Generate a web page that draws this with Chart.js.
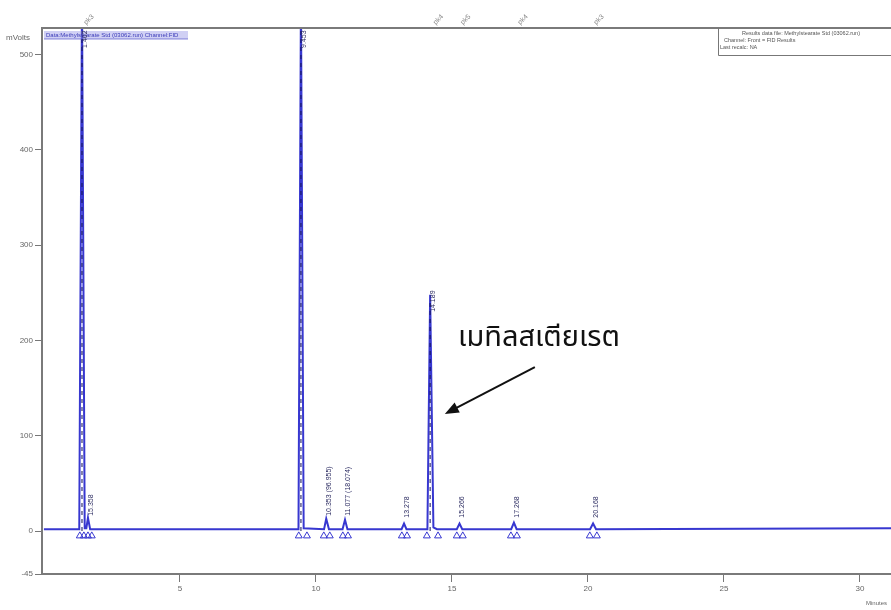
<!DOCTYPE html>
<html>
<head>
<meta charset="utf-8">
<script src="https://cdn.jsdelivr.net/npm/chart.js@4.4.0/dist/chart.umd.min.js"></script>
<style>
html,body{margin:0;padding:0;background:#fff;}
canvas{display:block;}
</style>
</head>
<body>
<canvas id="c" width="891" height="610"></canvas>
<script>
// ---- data ----
const timeMin   = [0, 1.30, 1.40, 1.50, 1.56, 1.62, 1.70, 9.36, 9.45, 9.55, 10.30, 10.38, 10.48, 10.98, 11.07, 11.16, 13.15, 13.24, 13.33, 14.10, 14.20, 14.32, 14.45, 15.18, 15.28, 15.38, 17.18, 17.28, 17.38, 20.08, 20.19, 20.30, 31.2];
const signalMv  = [2, 2, 560, 3, 3, 14, 2, 2, 560, 3, 2, 13, 2, 2, 12, 2, 2, 8, 2, 2, 248, 4, 2, 2, 8, 2, 2, 9, 2, 2, 8, 2, 3];

const markTimes = [1.32, 1.47, 1.62, 1.76, 9.37, 9.67, 10.29, 10.51, 10.99, 11.18, 13.16, 13.35, 14.08, 14.49, 15.18, 15.40, 17.17, 17.39, 20.07, 20.33];
const markLevel = -5;

const dropTimes = [1.40, 9.45, 14.20];
const dropTops  = [528, 528, 240];

const peakLabelTimes  = [1.40, 1.64, 9.45, 10.38, 11.07, 13.24, 14.20, 15.28, 17.28, 20.19];
const peakLabelBase   = [505, 14, 505, 14, 14, 12, 228, 12, 12, 12];
const peakLabelTexts  = ["1.402", "15.358", "9.453", "10.353 (96.955)", "11.077 (18.074)", "13.278", "14.189", "15.266", "17.268", "20.168"];

const eventTimes = [1.60, 14.45, 15.45, 17.55, 20.35];
const eventTexts = ["pk3", "pk4", "pk5", "pk4", "pk3"];

const xTickValues = [5, 10, 15, 20, 25, 30];
const yTickValues = [-45, 0, 100, 200, 300, 400, 500];

const annotationText = "เมทิลสเตียเรต";
const annotationAt   = {x: 15.22, y: 194};
const arrowFrom      = {x: 18.05, y: 172};
const arrowTo        = {x: 14.74, y: 123};

// ---- build datasets ----
const signalPts = timeMin.map((t, i) => ({x: t, y: signalMv[i]}));
const markPts = markTimes.map(t => ({x: t, y: markLevel}));
const dropPts = [];
dropTimes.forEach((t, i) => { dropPts.push({x: t, y: 0}, {x: t, y: dropTops[i]}, {x: t, y: null}); });

const BLUE = 'rgb(55,55,208)';

const decor = {
  id: 'decor',
  afterDraw(chart) {
    const {ctx, chartArea: a, scales: {x, y}} = chart;
    ctx.save();
    // top border and x-axis continuation to the canvas edge
    ctx.strokeStyle = '#7a7a7a';
    ctx.lineWidth = 2;
    ctx.beginPath(); ctx.moveTo(a.left - 1, a.top); ctx.lineTo(chart.width, a.top); ctx.stroke();
    ctx.beginPath(); ctx.moveTo(a.right - 1, a.bottom); ctx.lineTo(chart.width, a.bottom); ctx.stroke();

    // axis titles
    ctx.fillStyle = '#666';
    ctx.font = '8px Arial';
    ctx.textAlign = 'left'; ctx.textBaseline = 'middle';
    ctx.fillText('mVolts', 6, a.top + 10);
    ctx.font = '6px Arial';
    ctx.fillText('Minutes', 866, 603);

    // top-left legend
    ctx.fillStyle = 'rgba(150,150,230,0.45)';
    ctx.fillRect(a.left + 2, a.top + 3, 144, 8);
    ctx.fillStyle = '#3a3ab8';
    ctx.font = '6px Arial';
    ctx.textBaseline = 'middle';
    ctx.fillText('Data:Methylstearate Std (03062.run) Channel:FID', a.left + 4, a.top + 7);
    ctx.strokeStyle = '#5555cc'; ctx.lineWidth = 0.7;
    ctx.beginPath(); ctx.moveTo(a.left + 2, a.top + 11); ctx.lineTo(a.left + 146, a.top + 11); ctx.stroke();

    // top-right result box
    ctx.fillStyle = '#fff';
    ctx.fillRect(718, a.top + 1, 180, 27);
    ctx.strokeStyle = '#777'; ctx.lineWidth = 1;
    ctx.beginPath();
    ctx.moveTo(718.5, a.top); ctx.lineTo(718.5, a.top + 27.5); ctx.lineTo(chart.width, a.top + 27.5);
    ctx.stroke();
    ctx.fillStyle = '#555';
    ctx.font = '5.5px Arial';
    ctx.fillText('Results data file: Methylstearate Std (03062.run)', 742, a.top + 5);
    ctx.fillText('Channel: Front = FID Results', 724, a.top + 12);
    ctx.fillText('Last recalc: NA', 720, a.top + 19);

    // event labels above the plot (rotated 45°)
    ctx.fillStyle = '#888';
    ctx.font = '7px Arial';
    eventTimes.forEach((t, i) => {
      ctx.save();
      ctx.translate(x.getPixelForValue(t), a.top - 2);
      ctx.rotate(-Math.PI / 4);
      ctx.textAlign = 'left'; ctx.textBaseline = 'bottom';
      ctx.fillText(eventTexts[i], 0, 0);
      ctx.restore();
    });

    // peak labels (vertical)
    ctx.fillStyle = '#2a2a60';
    ctx.font = '7px Arial';
    peakLabelTimes.forEach((t, i) => {
      ctx.save();
      ctx.translate(x.getPixelForValue(t) + 3, y.getPixelForValue(peakLabelBase[i]) - 2);
      ctx.rotate(-Math.PI / 2);
      ctx.textAlign = 'left'; ctx.textBaseline = 'middle';
      ctx.fillText(peakLabelTexts[i], 0, 0);
      ctx.restore();
    });

    // annotation text
    ctx.fillStyle = '#111';
    ctx.font = '29px "Noto Sans Thai", "Noto Sans", "Tahoma", sans-serif';
    ctx.textAlign = 'left'; ctx.textBaseline = 'alphabetic';
    ctx.fillText(annotationText, x.getPixelForValue(annotationAt.x), y.getPixelForValue(annotationAt.y));

    // arrow
    const x1 = x.getPixelForValue(arrowFrom.x), y1 = y.getPixelForValue(arrowFrom.y);
    const x2 = x.getPixelForValue(arrowTo.x), y2 = y.getPixelForValue(arrowTo.y);
    const ang = Math.atan2(y2 - y1, x2 - x1);
    const hl = 15;
    ctx.strokeStyle = '#111'; ctx.lineWidth = 2;
    ctx.beginPath(); ctx.moveTo(x1, y1);
    ctx.lineTo(x2 - Math.cos(ang) * hl * 0.8, y2 - Math.sin(ang) * hl * 0.8); ctx.stroke();
    ctx.fillStyle = '#111';
    ctx.beginPath();
    ctx.moveTo(x2, y2);
    ctx.lineTo(x2 - hl * Math.cos(ang - 0.38), y2 - hl * Math.sin(ang - 0.38));
    ctx.lineTo(x2 - hl * Math.cos(ang + 0.38), y2 - hl * Math.sin(ang + 0.38));
    ctx.closePath(); ctx.fill();
    ctx.restore();
  }
};

new Chart(document.getElementById('c'), {
  type: 'line',
  data: {
    datasets: [
      {data: dropPts, borderColor: 'rgba(20,20,90,0.85)', borderWidth: 1.2, borderDash: [4, 4], pointRadius: 0, spanGaps: false, order: 1},
      {data: signalPts, borderColor: BLUE, borderWidth: 2, pointRadius: 0, tension: 0, order: 2, clip: {left: 0, top: 0, right: 10, bottom: 0}},
      {data: markPts, showLine: false, pointStyle: 'triangle', pointRadius: 4, borderColor: BLUE, borderWidth: 1, backgroundColor: 'rgba(255,255,255,0)', order: 0}
    ]
  },
  options: {
    responsive: false,
    devicePixelRatio: 1,
    animation: false,
    parsing: true,
    layout: {padding: {top: 28, right: 0, left: 0, bottom: 0}},
    plugins: {legend: {display: false}, tooltip: {enabled: false}},
    scales: {
      x: {
        type: 'linear', min: -0.07, max: 30.96,
        afterBuildTicks: s => { s.ticks = xTickValues.map(v => ({value: v})); },
        afterFit: s => { s.height = 36; },
        grid: {display: true, drawOnChartArea: false, drawTicks: true, tickLength: 8, color: '#777', lineWidth: 1},
        border: {display: true, color: '#7a7a7a', width: 2},
        ticks: {color: '#666', font: {size: 8, family: 'Arial'}, padding: 2, maxRotation: 0, autoSkip: false}
      },
      y: {
        type: 'linear', min: -45, max: 528,
        afterBuildTicks: s => { s.ticks = yTickValues.map(v => ({value: v})); },
        afterFit: s => { s.width = 42; },
        grid: {display: true, drawOnChartArea: false, drawTicks: true, tickLength: 7, color: '#777', lineWidth: 1},
        border: {display: true, color: '#7a7a7a', width: 2},
        ticks: {color: '#666', font: {size: 8, family: 'Arial'}, padding: 2, autoSkip: false}
      }
    }
  },
  plugins: [decor]
});
</script>
</body>
</html>
